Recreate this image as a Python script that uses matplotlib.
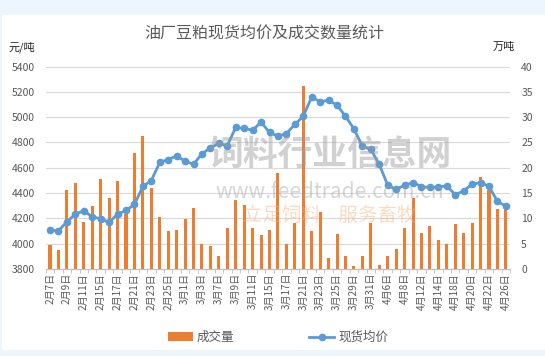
import matplotlib.pyplot as plt
import numpy as np

plt.rcParams['font.family'] = ['Noto Sans CJK SC', 'DejaVu Sans']

dates = ["2月7日", "2月8日", "2月9日", "2月10日", "2月11日", "2月14日", "2月15日",
         "2月16日", "2月17日", "2月18日", "2月21日", "2月22日", "2月23日", "2月24日",
         "2月25日", "2月28日", "3月1日", "3月2日", "3月3日", "3月4日", "3月7日",
         "3月8日", "3月9日", "3月10日", "3月11日", "3月14日", "3月15日", "3月16日",
         "3月17日", "3月18日", "3月21日", "3月22日", "3月23日", "3月24日", "3月25日",
         "3月28日", "3月29日", "3月30日", "3月31日", "4月1日", "4月6日", "4月7日",
         "4月8日", "4月11日", "4月12日", "4月13日", "4月14日", "4月15日", "4月18日",
         "4月19日", "4月20日", "4月21日", "4月22日", "4月25日", "4月26日"]

# 现货均价 (元/吨)
price = [4105, 4100, 4172, 4233, 4259, 4212, 4196, 4167, 4233, 4262,
         4309, 4452, 4499, 4642, 4665, 4694, 4652, 4628, 4710, 4758,
         4792, 4776, 4919, 4911, 4897, 4961, 4880, 4850, 4871, 4943,
         5008, 5161, 5122, 5135, 5095, 5008, 4908, 4771, 4745, 4626,
         4462, 4428, 4462, 4483, 4449, 4444, 4449, 4457, 4386, 4417,
         4470, 4483, 4452, 4333, 4296]

# 成交量 (万吨)
volume = [4.7, 3.7, 15.6, 17.0, 9.2, 12.5, 17.8, 14.1, 17.4, 10.9,
          22.9, 26.3, 16.0, 10.3, 7.4, 7.6, 9.9, 12.1, 4.9, 4.6,
          2.6, 8.1, 13.6, 12.7, 8.1, 6.7, 7.7, 18.9, 5.0, 9.1,
          36.2, 7.4, 11.2, 2.1, 6.9, 2.6, 0.5, 2.6, 9.0, 0.7,
          2.5, 3.9, 8.1, 14.0, 7.1, 8.4, 5.7, 5.0, 8.8, 7.1,
          9.0, 18.2, 15.5, 11.9, 11.8]

grey = '#595959'
x = np.arange(len(dates))

fig = plt.figure(figsize=(5.45, 3.56), dpi=100)
fig.patch.set_facecolor('#eef6fd')
fig.add_artist(plt.Rectangle((0.003, 0.017), 0.997, 0.94, transform=fig.transFigure,
                             facecolor='white', edgecolor='none', zorder=0))

ax = fig.add_axes([0.084, 0.245, 0.852, 0.5676])
ax2 = ax.twinx()
ax.set_zorder(ax2.get_zorder() + 1)
ax.patch.set_visible(False)

ax2.bar(x, volume, width=0.36, color='#ed7d31', label='成交量', zorder=2)
ax2.set_ylim(0, 40)
ax2.set_yticks(np.arange(0, 41, 5))

ax.plot(x, price, color='#5b9bd5', lw=2, marker='o', ms=4.5, label='现货均价')
ax.set_ylim(3800, 5400)
ax.set_yticks(np.arange(3800, 5401, 200))
ax.set_xlim(-0.5, len(dates) - 0.5)

ax2.yaxis.grid(True, color='#d9d9d9', lw=0.8)
ax2.set_axisbelow(True)

ax.set_xticks(x[::2])
ax.set_xticklabels(dates[::2], rotation=90, fontsize=7.2, color=grey)
ax.set_xticks(np.arange(-0.5, len(dates), 1), minor=True)
ax.tick_params(axis='x', which='major', length=0, pad=3)
ax.tick_params(axis='x', which='minor', length=3, color='#bfbfbf')
ax.tick_params(axis='y', length=0, labelsize=7.5, labelcolor=grey, pad=8)
ax2.tick_params(axis='y', length=0, labelsize=7.5, labelcolor=grey, pad=8)

for a in (ax, ax2):
    for s in ('top', 'left', 'right'):
        a.spines[s].set_visible(False)
    a.spines['bottom'].set_color('#bfbfbf')

fig.text(0.485, 0.905, '油厂豆粕现货均价及成交数量统计', ha='center', va='center',
         fontsize=11.5, color=grey, fontweight='medium')
fig.text(0.015, 0.868, '元/吨', fontsize=8, color='#222222', va='center')
fig.text(0.945, 0.868, '万吨', fontsize=8, color='#222222', va='center', ha='right')

# 水印
fig.text(0.605, 0.565, '饲料行业信息网', ha='center', va='center', fontsize=25,
         color='#9a9a9a', alpha=0.45, fontweight='bold', zorder=5)
fig.text(0.605, 0.46, 'www.feedtrade.com.cn', ha='center', va='center', fontsize=15,
         color='#9a9a9a', alpha=0.4, zorder=5)
fig.text(0.605, 0.395, '立足饲料    服务畜牧', ha='center', va='center', fontsize=14,
         color='#f5b27a', alpha=0.45, style='italic', zorder=5)

h1, l1 = ax2.get_legend_handles_labels()
h2, l2 = ax.get_legend_handles_labels()
fig.legend(h1 + h2, l1 + l2, loc='center', bbox_to_anchor=(0.51, 0.052), ncol=2,
           frameon=False, fontsize=9, labelcolor=grey, handlelength=2.0,
           columnspacing=6, handletextpad=0.3)

fig.savefig('out.png', dpi=100)
